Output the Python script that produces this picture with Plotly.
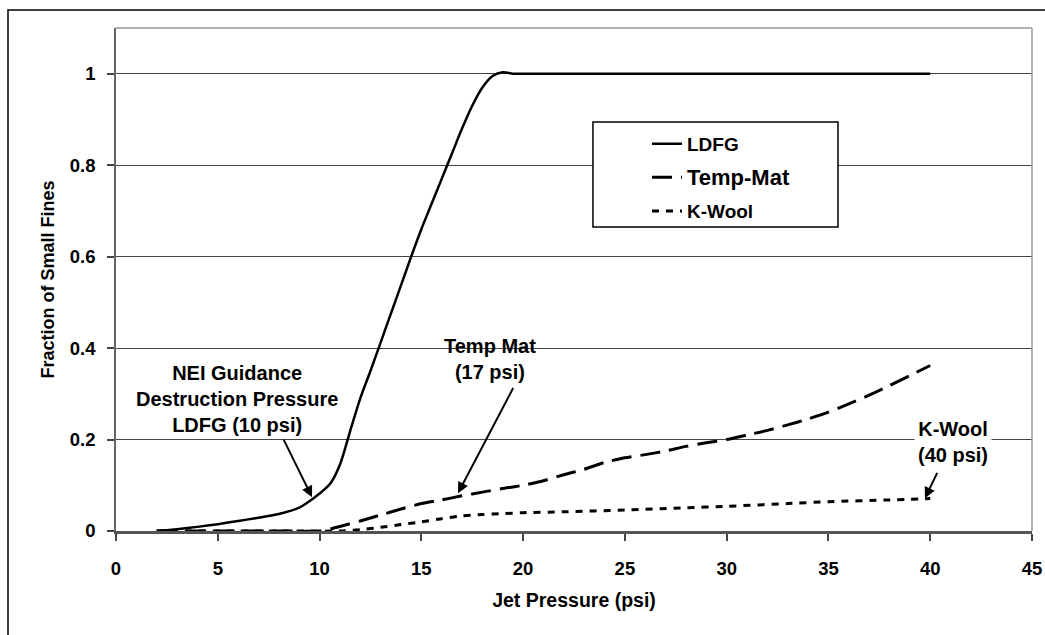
import plotly.graph_objects as go

# ---- data ----
ldfg_x = [2, 3, 4, 5, 6, 7, 8, 9, 9.5, 10, 10.5, 11, 11.5, 12, 12.5, 13, 13.5, 14, 14.5, 15, 15.5, 16, 16.5, 17, 17.5, 18, 18.5, 19, 19.5, 20, 25, 30, 35, 40]
ldfg_y = [0.0, 0.004, 0.009, 0.015, 0.022, 0.029, 0.037, 0.051, 0.065, 0.082, 0.102, 0.145, 0.218, 0.29, 0.35, 0.412, 0.475, 0.537, 0.6, 0.66, 0.715, 0.77, 0.825, 0.88, 0.93, 0.97, 0.995, 1.003, 1.0, 1.0, 1.0, 1.0, 1.0, 1.0]

temp_x = [2, 5, 8, 10, 10.5, 11, 12, 13, 14, 15, 16, 17, 18, 19, 20, 21, 22, 23, 24, 25, 26, 27, 28, 29, 30, 31, 32, 33, 34, 35, 36, 37, 38, 39, 40]
temp_y = [0.0, 0.0, 0.0, 0.0, 0.004, 0.01, 0.022, 0.035, 0.048, 0.06, 0.068, 0.077, 0.085, 0.093, 0.10, 0.11, 0.123, 0.135, 0.15, 0.16, 0.167, 0.175, 0.185, 0.193, 0.20, 0.21, 0.22, 0.232, 0.245, 0.26, 0.278, 0.297, 0.318, 0.34, 0.362]

kwool_x = [2, 5, 8, 11, 12, 13, 14, 15, 16, 17, 18, 19, 20, 22, 25, 28, 30, 33, 35, 38, 40]
kwool_y = [0.0, 0.0, 0.0, 0.0, 0.003, 0.008, 0.014, 0.02, 0.027, 0.033, 0.036, 0.038, 0.04, 0.042, 0.046, 0.051, 0.054, 0.06, 0.064, 0.068, 0.071]

x_ticks = [0, 5, 10, 15, 20, 25, 30, 35, 40, 45]
y_ticks = [0, 0.2, 0.4, 0.6, 0.8, 1.0]
y_tick_labels = ["0", "0.2", "0.4", "0.6", "0.8", "1"]

FONT = "Liberation Sans, Arial, sans-serif"

fig = go.Figure()
fig.add_trace(go.Scatter(x=ldfg_x, y=ldfg_y, mode="lines", name="LDFG", legendgroup="a",
                         line=dict(color="black", width=2.5, shape="spline", smoothing=0.8)))
fig.add_trace(go.Scatter(x=temp_x, y=temp_y, mode="lines",
                         name='<span style="font-size:22px">Temp-Mat</span>', legendgroup="b",
                         line=dict(color="black", width=3, dash="20px,9px", shape="spline", smoothing=0.6)))
fig.add_trace(go.Scatter(x=kwool_x, y=kwool_y, mode="lines", name="K-Wool", legendgroup="c",
                         line=dict(color="black", width=3, dash="7px,7px", shape="spline", smoothing=0.6)))

# figure frame and plot frame
fig.add_shape(type="rect", xref="paper", yref="paper", x0=-0.1179, x1=1.3, y0=-0.6, y1=1.0358,
              line=dict(color="black", width=1.5), fillcolor="rgba(0,0,0,0)", layer="below")
fig.add_shape(type="line", xref="paper", yref="paper", x0=0, x1=1, y0=1, y1=1,
              line=dict(color="#999999", width=1.5))
fig.add_shape(type="line", xref="paper", yref="paper", x0=1, x1=1, y0=0, y1=1,
              line=dict(color="#999999", width=1.5))
# legend box
fig.add_shape(type="rect", xref="paper", yref="paper", x0=0.5207, x1=0.7882, y0=0.6044, y1=0.8131,
              line=dict(color="black", width=1.5), fillcolor="white", layer="above")

ann_font = dict(family=FONT, size=20, color="black")
fig.add_annotation(x=5.93, y=0.289, text="<b>NEI Guidance<br>Destruction Pressure<br>LDFG (10 psi)</b>",
                   showarrow=False, font=ann_font)
fig.add_annotation(x=18.37, y=0.376, text="<b>Temp Mat<br>(17 psi)</b>", showarrow=False, font=ann_font)
fig.add_annotation(x=41.12, y=0.195, text="<b>K-Wool<br>(40 psi)</b>", showarrow=False, font=ann_font,
                   bgcolor="white", borderpad=3)

arrow = dict(showarrow=True, arrowhead=2, arrowsize=1.1, arrowwidth=2, arrowcolor="black",
             axref="x", ayref="y", text="")
fig.add_annotation(x=9.63, y=0.074, ax=8.2, ay=0.203, **arrow)
fig.add_annotation(x=16.8, y=0.0825, ax=19.55, ay=0.316, **arrow)
fig.add_annotation(x=39.74, y=0.0716, ax=40.38, ay=0.1305, **arrow)

fig.update_layout(
    width=1045, height=635,
    margin=dict(l=116, r=13, t=28, b=104, autoexpand=False),
    paper_bgcolor="white", plot_bgcolor="white",
    font=dict(family=FONT, size=18, color="black"),
    showlegend=True,
    legend=dict(x=0.5797, y=0.8076, xanchor="left", yanchor="top",
                bgcolor="rgba(0,0,0,0)", borderwidth=0, tracegroupgap=6,
                font=dict(family=FONT, size=19, color="black", weight="bold")),
    xaxis=dict(range=[0, 45], tickvals=x_ticks, ticks="outside", ticklen=7, tickwidth=1.5,
               tickcolor="#444", showline=True, linecolor="#555", linewidth=2.5,
               showgrid=False, zeroline=False, ticklabelstandoff=12,
               tickfont=dict(family=FONT, size=18.5, weight="bold"),
               title=dict(text="<b>Jet Pressure (psi)</b>", font=dict(family=FONT, size=19.5), standoff=16)),
    yaxis=dict(range=[0, 1.1], tickvals=y_ticks, ticktext=y_tick_labels, ticks="outside", ticklen=7,
               tickwidth=1.5, tickcolor="#444", showline=True, linecolor="#666", linewidth=1.5,
               showgrid=True, gridcolor="#444", gridwidth=1, zeroline=False, ticklabelstandoff=8,
               tickfont=dict(family=FONT, size=18.5, weight="bold"),
               title=dict(text="<b>Fraction of Small Fines</b>", font=dict(family=FONT, size=18), standoff=11)),
)

fig.write_html("out.html")
